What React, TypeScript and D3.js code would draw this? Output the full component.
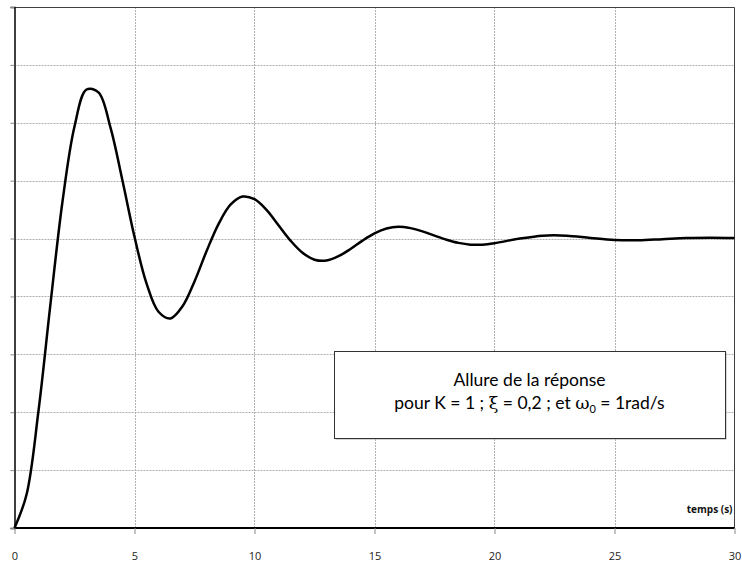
import * as d3 from "d3";
import { useEffect, useRef } from "react";

// time (s) and response values
const times = [
  0, 0.5, 1, 1.5, 2, 2.5, 3, 3.5, 4, 4.5, 5, 5.5, 6, 6.5, 7, 7.5, 8, 8.5, 9, 9.5,
  10, 10.5, 11, 11.5, 12, 12.5, 13, 13.5, 14, 14.5, 15, 15.5, 16, 16.5, 17,
  17.5, 18, 18.5, 19, 19.5, 20, 21, 22, 23, 24, 25, 26, 27, 28, 29, 30,
];
const response = [
  0, 0.115, 0.405, 0.775, 1.128, 1.387, 1.515, 1.505, 1.383, 1.2, 1.006,
  0.845, 0.747, 0.724, 0.766, 0.852, 0.956, 1.05, 1.117, 1.145, 1.136, 1.099,
  1.046, 0.993, 0.951, 0.927, 0.924, 0.939, 0.964, 0.993, 1.018, 1.035, 1.041,
  1.036, 1.025, 1.01, 0.996, 0.985, 0.979, 0.979, 0.984, 0.999, 1.01, 1.01,
  1.002, 0.995, 0.994, 0.998, 1.002, 1.003, 1.002,
];
const xTicks = [0, 5, 10, 15, 20, 25, 30];
const yTicks = [0, 0.2, 0.4, 0.6, 0.8, 1, 1.2, 1.4, 1.6, 1.8];

export default function App() {
  const svgRef = useRef<SVGSVGElement | null>(null);

  useEffect(() => {
    const width = 742;
    const height = 567;
    const left = 14.5;
    const right = 734.5;
    const top = 7;
    const bottom = 528;

    const svg = d3.select(svgRef.current);
    svg.selectAll("*").remove();

    const x = d3.scaleLinear().domain([0, 30]).range([left, right]);
    const y = d3.scaleLinear().domain([0, 1.8]).range([bottom, top]);

    svg.append("rect").attr("width", width).attr("height", height).attr("fill", "#fff");

    // grid
    svg
      .append("g")
      .selectAll("line")
      .data(xTicks.slice(1, -1))
      .join("line")
      .attr("x1", (d) => Math.round(x(d)) + 0.5)
      .attr("x2", (d) => Math.round(x(d)) + 0.5)
      .attr("y1", top)
      .attr("y2", bottom)
      .attr("stroke", "#b0b0b0")
      .attr("stroke-dasharray", "2 1");

    svg
      .append("g")
      .selectAll("line")
      .data(yTicks.slice(1))
      .join("line")
      .attr("x1", left)
      .attr("x2", right)
      .attr("y1", (d) => Math.round(y(d)) + 0.5)
      .attr("y2", (d) => Math.round(y(d)) + 0.5)
      .attr("stroke", "#b0b0b0")
      .attr("stroke-dasharray", "2 1");

    // plot border top / right
    svg
      .append("path")
      .attr("d", `M${left},${top + 0.5}H${right}V${bottom}`)
      .attr("fill", "none")
      .attr("stroke", "#404040")
      .attr("stroke-width", 1);

    // y axis (ticks, no labels)
    const yAxis = svg
      .append("g")
      .attr("transform", `translate(${left},0)`)
      .call(d3.axisLeft(y).tickValues(yTicks).tickSize(4).tickFormat(() => ""));
    yAxis.select(".domain").attr("stroke", "#000").attr("stroke-width", 1.5);
    yAxis.selectAll(".tick line").attr("stroke", "#888");

    // x axis
    const xAxis = svg
      .append("g")
      .attr("transform", `translate(0,${bottom})`)
      .call(
        d3
          .axisBottom(x)
          .tickValues(xTicks)
          .tickSize(6)
          .tickPadding(18)
          .tickFormat((d) => String(d))
      );
    xAxis.select(".domain").attr("stroke", "#000").attr("stroke-width", 2).attr("d", `M${left},0H${right}`);
    xAxis.selectAll(".tick line").attr("stroke", "#888");
    xAxis
      .selectAll(".tick text")
      .attr("fill", "#222")
      .style("font", "11px 'Open Sans', sans-serif");

    // response curve
    const line = d3
      .line<number>()
      .x((_, i) => x(times[i]))
      .y((d) => y(d))
      .curve(d3.curveCatmullRom);

    svg
      .append("path")
      .datum(response)
      .attr("fill", "none")
      .attr("stroke", "#000")
      .attr("stroke-width", 2.5)
      .attr("stroke-linejoin", "round")
      .attr("d", line);

    // axis title
    svg
      .append("text")
      .attr("x", right - 2)
      .attr("y", bottom - 15)
      .attr("text-anchor", "end")
      .style("font", "bold 10px 'Open Sans', sans-serif")
      .attr("fill", "#111")
      .text("temps (s)");

    // annotation box
    const bx = 334;
    const by = 351;
    const bw = 391;
    const bh = 87;
    svg
      .append("rect")
      .attr("x", bx + 1.5)
      .attr("y", by + 1.5)
      .attr("width", bw)
      .attr("height", bh)
      .attr("fill", "#aaa");
    svg
      .append("rect")
      .attr("x", bx + 0.5)
      .attr("y", by + 0.5)
      .attr("width", bw)
      .attr("height", bh)
      .attr("fill", "#fff")
      .attr("stroke", "#333")
      .attr("stroke-width", 1);

    const cx = bx + bw / 2;
    const font = "17.5px Lato, 'Open Sans', sans-serif";
    svg
      .append("text")
      .attr("x", cx)
      .attr("y", 386)
      .attr("text-anchor", "middle")
      .style("font", font)
      .attr("fill", "#000")
      .text("Allure de la réponse");

    const t2 = svg
      .append("text")
      .attr("x", cx)
      .attr("y", 409)
      .attr("text-anchor", "middle")
      .style("font", font)
      .attr("fill", "#000");
    t2.append("tspan").text("pour K = 1 ; ");
    t2.append("tspan").style("font-family", "'DejaVu Serif', serif").text("ξ");
    t2.append("tspan").text(" = 0,2 ; et ");
    t2.append("tspan").style("font-family", "'DejaVu Serif', serif").text("ω");
    t2.append("tspan").attr("dy", 4).style("font-size", "11px").text("0");
    t2.append("tspan").attr("dy", -4).text(" = 1rad/s");
  }, []);

  return (
    <svg
      ref={svgRef}
      width={742}
      height={567}
      style={{ position: "absolute", left: 0, top: 0, display: "block" }}
    />
  );
}
